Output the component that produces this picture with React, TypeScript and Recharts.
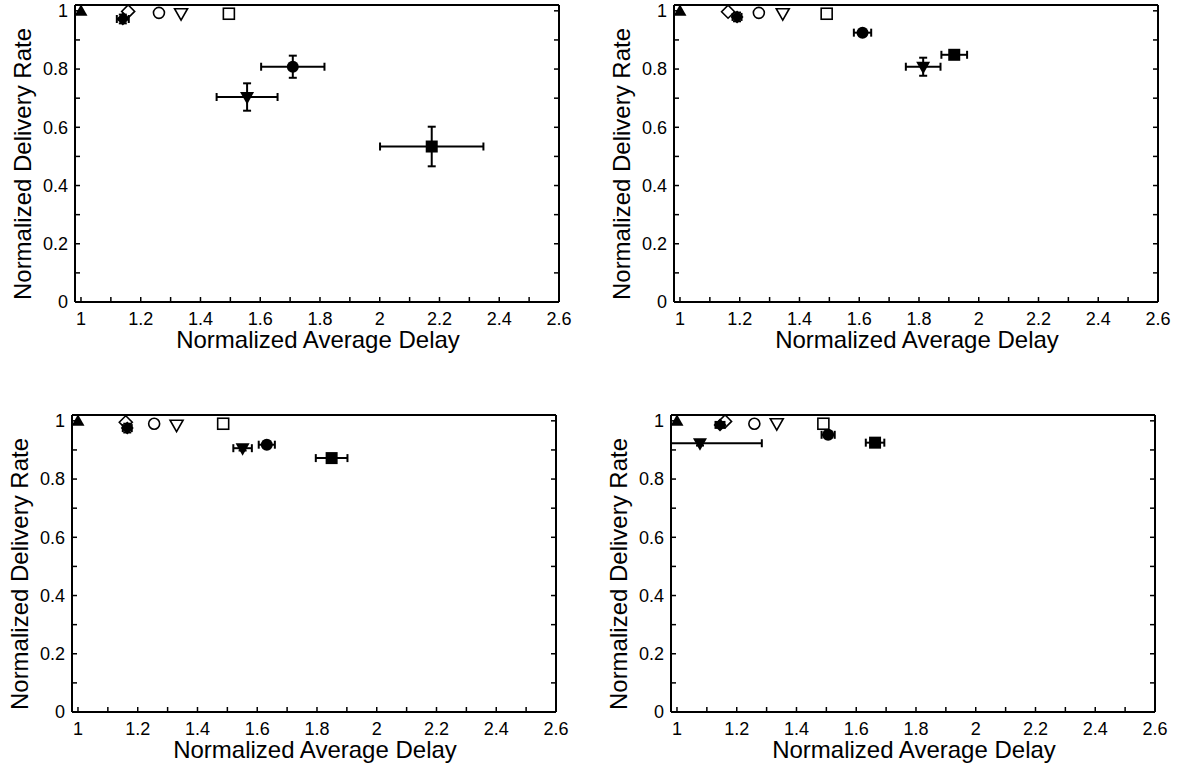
import React from 'react';
import { ScatterChart, Scatter, XAxis, YAxis, ErrorBar } from 'recharts';

const FONT = '"Liberation Sans", Arial, Helvetica, sans-serif';

// marker kinds, in drawing order
const seriesKinds = [
  'triUpFilled',
  'diamondFilled',
  'diamondOpen',
  'circleOpen',
  'triDownOpen',
  'squareOpen',
  'circleFilled',
  'triDownFilled',
  'squareFilled',
];

const xTicks = [1, 1.1, 1.2, 1.3, 1.4, 1.5, 1.6, 1.7, 1.8, 1.9, 2, 2.1, 2.2, 2.3, 2.4, 2.5, 2.6];
const yTicks = [0, 0.1, 0.2, 0.3, 0.4, 0.5, 0.6, 0.7, 0.8, 0.9, 1];
const xDomain = [0.98, 2.6];
const yDomain = [0, 1.02];

const xLabelText = 'Normalized Average Delay';
const yLabelText = 'Normalized Delivery Rate';

// Panel 1 (top left)
const p1X = [1.0, 1.14, 1.158, 1.261, 1.335, 1.495, 1.709, 1.556, 2.174];
const p1Y = [1.0, 0.972, 0.998, 0.993, 0.99, 0.99, 0.808, 0.704, 0.534];
const p1Ex = [0, 0.02, 0, 0, 0, 0, 0.106, 0.102, 0.173];
const p1ExLow = [0, 0.02, 0, 0, 0, 0, 0.106, 0.102, 0.173];
const p1Ey = [0, 0.015, 0, 0, 0, 0, 0.038, 0.047, 0.068];

// Panel 2 (top right)
const p2X = [1.0, 1.191, 1.161, 1.264, 1.344, 1.491, 1.611, 1.814, 1.918];
const p2Y = [1.0, 0.979, 0.997, 0.993, 0.99, 0.99, 0.925, 0.808, 0.849];
const p2Ex = [0, 0.015, 0, 0, 0, 0, 0.029, 0.058, 0.043];
const p2ExLow = [0, 0.015, 0, 0, 0, 0, 0.029, 0.058, 0.043];
const p2Ey = [0, 0.015, 0, 0, 0, 0, 0.008, 0.031, 0.012];

// Panel 3 (bottom left)
const p3X = [1.0, 1.165, 1.16, 1.255, 1.33, 1.486, 1.632, 1.551, 1.849];
const p3Y = [1.0, 0.975, 0.995, 0.99, 0.985, 0.99, 0.918, 0.906, 0.872];
const p3Ex = [0, 0.015, 0, 0, 0, 0, 0.027, 0.031, 0.053];
const p3ExLow = [0, 0.015, 0, 0, 0, 0, 0.027, 0.031, 0.053];
const p3Ey = [0, 0.015, 0, 0, 0, 0, 0.01, 0.008, 0.008];

// Panel 4 (bottom right) — the filled down-triangle's left bar is cut at the axis
const p4X = [1.0, 1.144, 1.161, 1.259, 1.334, 1.49, 1.506, 1.077, 1.663];
const p4Y = [1.0, 0.986, 0.998, 0.99, 0.99, 0.99, 0.952, 0.923, 0.925];
const p4Ex = [0, 0.015, 0, 0, 0, 0, 0.022, 0.207, 0.031];
const p4ExLow = [0, 0.015, 0, 0, 0, 0, 0.022, 0.097, 0.031];
const p4Ey = [0, 0.01, 0, 0, 0, 0, 0.01, 0.008, 0.008];

const fmt = (v: number) => {
  const k = Math.round(v * 10);
  if (k % 2 !== 0) return '';
  return String(+(k / 10).toFixed(1));
};

const makeShape = (kind: string) => (props: any) => {
  const { cx, cy } = props;
  if (cx == null || cy == null) return <g />;
  const sw = 1.6;
  switch (kind) {
    case 'triUpFilled':
      return <polygon points={`${cx},${cy - 6.5} ${cx - 6.5},${cy + 5} ${cx + 6.5},${cy + 5}`} fill="#000" />;
    case 'diamondFilled':
      return <polygon points={`${cx},${cy - 6.5} ${cx + 6.5},${cy} ${cx},${cy + 6.5} ${cx - 6.5},${cy}`} fill="#000" />;
    case 'diamondOpen':
      return (
        <polygon points={`${cx},${cy - 6.5} ${cx + 6.5},${cy} ${cx},${cy + 6.5} ${cx - 6.5},${cy}`} fill="none" stroke="#000" strokeWidth={sw} />
      );
    case 'circleOpen':
      return <circle cx={cx} cy={cy} r={5.5} fill="none" stroke="#000" strokeWidth={sw} />;
    case 'triDownOpen':
      return (
        <polygon points={`${cx - 6.5},${cy - 5} ${cx + 6.5},${cy - 5} ${cx},${cy + 6.5}`} fill="none" stroke="#000" strokeWidth={sw} />
      );
    case 'squareOpen':
      return <rect x={cx - 5.5} y={cy - 5.5} width={11} height={11} fill="none" stroke="#000" strokeWidth={sw} />;
    case 'circleFilled':
      return <circle cx={cx} cy={cy} r={6} fill="#000" />;
    case 'triDownFilled':
      return <polygon points={`${cx - 7},${cy - 5} ${cx + 7},${cy - 5} ${cx},${cy + 7.5}`} fill="#000" />;
    case 'squareFilled':
      return <rect x={cx - 6} y={cy - 6} width={12} height={12} fill="#000" />;
    default:
      return <g />;
  }
};

const XLabel = () => (
  <text x={318} y={348} textAnchor="middle" fontSize={24} fontFamily={FONT} fill="#000">
    {xLabelText}
  </text>
);

const YLabel = () => (
  <text
    x={31}
    y={164}
    textAnchor="middle"
    fontSize={24}
    fontFamily={FONT}
    fill="#000"
    transform="rotate(-90, 31, 164)"
  >
    {yLabelText}
  </text>
);

const axisLine = { stroke: '#000', strokeWidth: 2 };
const tickLine = { stroke: '#000', strokeWidth: 1.5 };
const tickStyle = { fontSize: 18, fill: '#000', fontFamily: FONT };
const emptyFmt = () => '';

type PanelProps = {
  xs: number[];
  ys: number[];
  exs: number[];
  exLows: number[];
  eys: number[];
  left: number;
  top: number;
};

function Panel({ xs, ys, exs, exLows, eys, left, top }: PanelProps) {
  return (
    <div style={{ position: 'absolute', left, top }}>
      <ScatterChart width={600} height={362} margin={{ top: 4, right: 40, left: 25, bottom: 0 }}>
        <XAxis
          xAxisId={0}
          type="number"
          dataKey="x"
          domain={xDomain}
          ticks={xTicks}
          interval={0}
          allowDataOverflow
          tickFormatter={fmt}
          tickSize={-5}
          tickMargin={15}
          height={60}
          axisLine={axisLine}
          tickLine={tickLine}
          tick={tickStyle}
          label={<XLabel />}
        />
        <XAxis
          xAxisId="t"
          orientation="top"
          type="number"
          domain={xDomain}
          ticks={xTicks}
          interval={0}
          allowDataOverflow
          tickFormatter={emptyFmt}
          tickSize={-5}
          height={1}
          axisLine={axisLine}
          tickLine={tickLine}
          tick={tickStyle}
        />
        <YAxis
          yAxisId={0}
          type="number"
          dataKey="y"
          domain={yDomain}
          ticks={yTicks}
          interval={0}
          allowDataOverflow
          tickFormatter={fmt}
          tickSize={-5}
          tickMargin={12}
          width={50}
          axisLine={axisLine}
          tickLine={tickLine}
          tick={tickStyle}
          label={<YLabel />}
        />
        <YAxis
          yAxisId="r"
          orientation="right"
          type="number"
          domain={yDomain}
          ticks={yTicks}
          interval={0}
          allowDataOverflow
          tickFormatter={emptyFmt}
          tickSize={-5}
          width={1}
          axisLine={axisLine}
          tickLine={tickLine}
          tick={tickStyle}
        />
        {seriesKinds.map((kind, i) => (
          <Scatter
            key={kind}
            name={kind}
            xAxisId={0}
            yAxisId={0}
            data={[{ x: xs[i], y: ys[i], ex: [exLows[i], exs[i]], ey: eys[i] }]}
            shape={makeShape(kind)}
            isAnimationActive={false}
          >
            {exs[i] > 0 && (
              <ErrorBar dataKey="ex" direction="x" width={4} stroke="#000" strokeWidth={2} />
            )}
            {eys[i] > 0 && (
              <ErrorBar dataKey="ey" direction="y" width={4} stroke="#000" strokeWidth={2} />
            )}
          </Scatter>
        ))}
      </ScatterChart>
    </div>
  );
}

export default function App() {
  return (
    <div
      style={{
        position: 'absolute',
        left: 0,
        top: 0,
        width: 1186,
        height: 771,
        background: '#fff',
        fontFamily: FONT,
        overflow: 'hidden',
      }}
    >
      <Panel xs={p1X} ys={p1Y} exs={p1Ex} exLows={p1ExLow} eys={p1Ey} left={0} top={0} />
      <Panel xs={p2X} ys={p2Y} exs={p2Ex} exLows={p2ExLow} eys={p2Ey} left={599} top={0} />
      <Panel xs={p3X} ys={p3Y} exs={p3Ex} exLows={p3ExLow} eys={p3Ey} left={-3} top={410} />
      <Panel xs={p4X} ys={p4Y} exs={p4Ex} exLows={p4ExLow} eys={p4Ey} left={596} top={410} />
    </div>
  );
}
